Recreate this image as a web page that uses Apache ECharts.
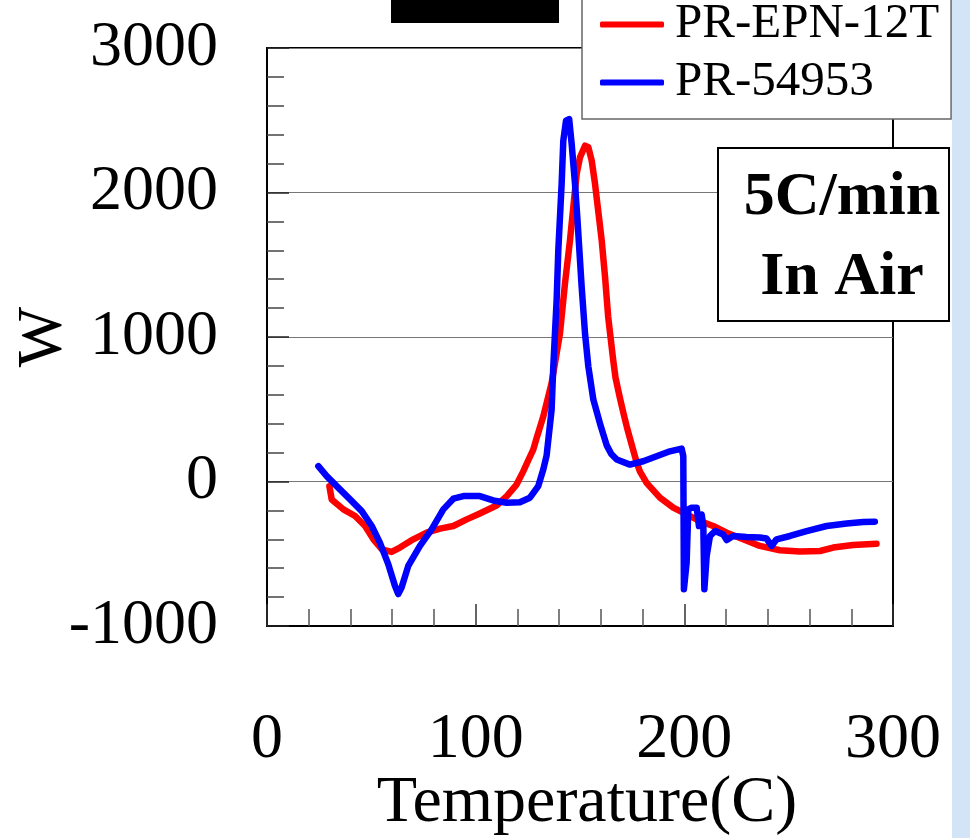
<!DOCTYPE html>
<html><head><meta charset="utf-8">
<script src="https://cdn.jsdelivr.net/npm/echarts@6/dist/echarts.min.js"></script>
<style>html,body{margin:0;padding:0;background:#fff}#c{width:970px;height:838px}</style>
</head><body><div id="c"></div><script>
// Temperature (C) and W values
const seriesNames = ['PR-EPN-12T', 'PR-54953'];
const tempRed = [29.9,31,36.6,42.2,47,51,55,59.7,63.7,70.1,76.5,82.9,89.3,95.7,102,110,114.9,119.6,122.8,125,127.6,129.2,132.4,136.4,140.4,142.8,145.2,146.8,148.4,150,152.4,154,155.6,157.2,158.7,160.4,162,163.5,165.9,167,169.1,170.7,172.4,173.9,176.3,177.1,178.7,181.9,188.3,194.7,201.1,207.5,213.8,220.3,228.2,236.2,245.8,255.4,265,271.3,280.9,292.1];
const wRed = [-32,-124,-193,-239,-308,-400,-469,-487,-457,-400,-354,-326,-308,-262,-221,-166,-101,-21,70,140,220,300,450,681,1025,1370,1669,1899,2129,2243,2324,2313,2221,2060,1876,1669,1416,1140,841,720,580,480,380,300,175,135,70,-9,-112,-181,-228,-274,-308,-354,-400,-446,-476,-485,-481,-457,-439,-430];
const tempBlue = [24.6,28.6,33.4,39.8,45.4,50.2,54.1,58.1,61.3,62.9,64.5,67.7,73.3,78.9,84.5,89.3,94.1,102,108.4,114.9,121.2,126,130,132.4,134,136.4,137.2,138.8,139.6,140.4,141.2,142,143.3,144.8,146,147.6,148.7,149.7,150.8,152.4,154,156.4,159.6,162.8,165,167.6,173.9,180.3,186.7,193.1,198.7,199.5,199.8,201.1,201.9,203.5,205.9,207,208.3,209.1,209.6,210.7,212.3,214.7,218.6,220.3,223.4,229.8,236.2,239.4,241.8,244.2,250.6,258.6,268.2,277.8,285.7,291.3];
const wBlue = [106,37,-32,-124,-205,-308,-423,-572,-722,-779,-733,-584,-446,-331,-193,-119,-101,-101,-131,-147,-143,-112,-32,83,180,497,795,1255,1600,1830,2060,2359,2497,2508,2336,2060,1830,1600,1347,1025,795,566,400,250,190,152,117,140,175,209,228,175,-745,-561,-193,-181,-181,-308,-228,-308,-745,-515,-377,-343,-366,-405,-377,-384,-388,-395,-446,-400,-377,-343,-308,-290,-281,-278];
const xMin = 0, xMax = 300, xStep = 100;
const yMin = -1000, yMax = 3000, yStep = 1000;
const noteLines = ['5C/min', 'In Air'];

const zip = (xs, ys) => xs.map((x, i) => [x, ys[i]]);
const serif = '"Liberation Serif","Times New Roman",serif';

const chart = echarts.init(document.getElementById('c'), null, {renderer: 'canvas'});
chart.setOption({
  animation: false,
  backgroundColor: '#fff',
  grid: {left: 267, right: 77, top: 48, bottom: 212, containLabel: false, outerBoundsMode: 'none',
         show: true, borderColor: '#000', borderWidth: 2, backgroundColor: 'transparent'},
  legend: {
    orient: 'vertical', left: 582, top: -14,
    padding: [14, 12, 12, 18],
    itemWidth: 64, itemHeight: 6, itemGap: 9,
    icon: 'roundRect', selectedMode: false,
    backgroundColor: '#fff', borderColor: '#666', borderWidth: 1.5, borderRadius: 0,
    textStyle: {fontFamily: serif, fontSize: 49, color: '#000', padding: [0, 0, 0, 6]},
    data: seriesNames
  },
  xAxis: {
    type: 'value', min: xMin, max: xMax, interval: xStep,
    axisLine: {show: true, onZero: false, lineStyle: {color: '#000', width: 2}},
    axisTick: {show: true, inside: true, length: 22, lineStyle: {color: '#333', width: 1.5}},
    minorTick: {show: true, splitNumber: 5, length: 17, lineStyle: {color: '#555', width: 1.5}},
    splitLine: {show: false},
    axisLabel: {fontFamily: serif, fontSize: 64, color: '#000', margin: 82, formatter: v => String(v)},
    name: 'Temperature(C)', nameLocation: 'middle', nameGap: 145, nameMoveOverlap: false,
    nameTextStyle: {fontFamily: serif, fontSize: 66, color: '#000', padding: [0, 0, 0, 14]}
  },
  yAxis: {
    type: 'value', min: yMin, max: yMax, interval: yStep,
    axisLine: {show: true, lineStyle: {color: '#000', width: 2}},
    axisTick: {show: true, inside: true, length: 22, lineStyle: {color: '#222', width: 1.5}},
    minorTick: {show: true, splitNumber: 5, length: 17, lineStyle: {color: '#444', width: 1.5}},
    splitLine: {show: true, lineStyle: {color: '#777', width: 1}},
    axisLabel: {fontFamily: serif, fontSize: 64, color: '#000', margin: 49, padding: [12, 0, 0, 0],
                formatter: v => String(v)},
    name: 'W', nameLocation: 'middle', nameGap: 191, nameMoveOverlap: false,
    nameTextStyle: {fontFamily: serif, fontSize: 64, color: '#000'}
  },
  series: [
    {name: seriesNames[0], type: 'line', data: zip(tempRed, wRed), showSymbol: false, symbol: 'none',
     color: '#ff0000', lineStyle: {color: '#ff0000', width: 6.5, cap: 'round', join: 'round'}, z: 3},
    {name: seriesNames[1], type: 'line', data: zip(tempBlue, wBlue), showSymbol: false, symbol: 'none',
     color: '#0000ff', lineStyle: {color: '#0000ff', width: 6.5, cap: 'round', join: 'round'}, z: 4}
  ],
  graphic: [
    {type: 'rect', z: 100, shape: {x: 391, y: 0, width: 168, height: 23}, style: {fill: '#000'}},
    {type: 'rect', z: 100, shape: {x: 952, y: 0, width: 18, height: 838}, style: {fill: '#d4e4f7'}},
    {type: 'rect', z: 100, shape: {x: 718, y: 148, width: 231, height: 173}, style: {fill: '#fff', stroke: '#000', lineWidth: 2}},
    {type: 'text', z: 101, x: 842, y: 238,
     style: {text: noteLines.join('\n'), fontFamily: serif, fontWeight: 'bold', fontSize: 62, lineHeight: 80,
             fill: '#000', align: 'center', verticalAlign: 'middle',
             textShadowColor: '#aaa', textShadowOffsetX: 3, textShadowOffsetY: 3, textShadowBlur: 0}}
  ]
});
</script></body></html>
